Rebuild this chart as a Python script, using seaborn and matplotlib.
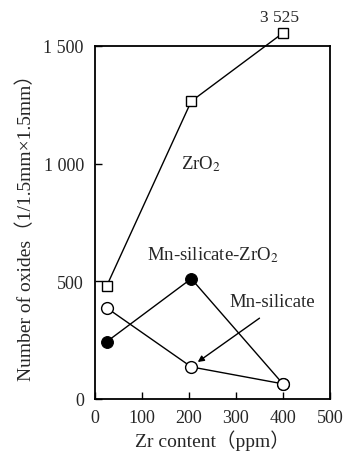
"""Number of oxides vs Zr content"""

import matplotlib
matplotlib.use("Agg")
import matplotlib.pyplot as plt
import seaborn as sns

sns.set_style("ticks")
plt.rcParams["font.family"] = ["Liberation Serif", "Noto Sans CJK JP", "DejaVu Serif"]
plt.rcParams["mathtext.fontset"] = "stix"

# data
zr_ppm = [25, 205, 400]
zro2 = [480, 1265, 1555]          # last point drawn above the frame, labelled 3 525
mn_sil_zro2 = [243, 511, 64]
mn_sil = [387, 136, 64]

x_ticks = [0, 100, 200, 300, 400, 500]
y_ticks = [0, 500, 1000, 1500]
y_tick_labels = ["0", "500", "1 000", "1 500"]

fig = plt.figure(figsize=(3.44, 4.56), dpi=100)
ax = fig.add_axes([0.276, 0.123, 0.683, 0.774])

sns.lineplot(x=zr_ppm, y=zro2, ax=ax, color="black", lw=1, marker="s",
             markersize=7, markerfacecolor="white", markeredgecolor="black",
             markeredgewidth=1)
ax.lines[-1].set_clip_on(False)
sns.lineplot(x=zr_ppm, y=mn_sil_zro2, ax=ax, color="black", lw=1, marker="o",
             markersize=8.5, markerfacecolor="black", markeredgecolor="black")
sns.lineplot(x=zr_ppm, y=mn_sil, ax=ax, color="black", lw=1, marker="o",
             markersize=8.5, markerfacecolor="white", markeredgecolor="black",
             markeredgewidth=1)

ax.set_xlim(0, 500)
ax.set_ylim(0, 1500)
ax.set_xticks(x_ticks)
ax.set_yticks(y_ticks)
ax.set_yticklabels(y_tick_labels)
ax.tick_params(direction="in", length=5, width=1, labelsize=13, color="black")
ax.tick_params(axis="y", pad=8)
ax.tick_params(axis="x", pad=7)
for s in ax.spines.values():
    s.set_linewidth(1.3)
    s.set_color("black")

ax.set_xlabel("Zr content\uff08ppm\uff09", fontsize=14, labelpad=3)
ax.set_ylabel("Number of oxides\uff081/1.5mm\u00d71.5mm\uff09", fontsize=14, labelpad=6)

ax.text(393, 1590, "3 525", ha="center", va="bottom", fontsize=12.5, clip_on=False)
ax.text(226, 1000, "ZrO$_2$", ha="center", va="center", fontsize=13.5)
ax.text(250, 617, "Mn-silicate-ZrO$_2$", ha="center", va="center", fontsize=13.5)
ax.text(378, 413, "Mn-silicate", ha="center", va="center", fontsize=13.5)
ax.annotate("", xy=(214, 150), xytext=(355, 350),
            arrowprops=dict(arrowstyle="-|>", color="black", lw=1,
                            mutation_scale=9))

fig.savefig("out.png", dpi=100)
